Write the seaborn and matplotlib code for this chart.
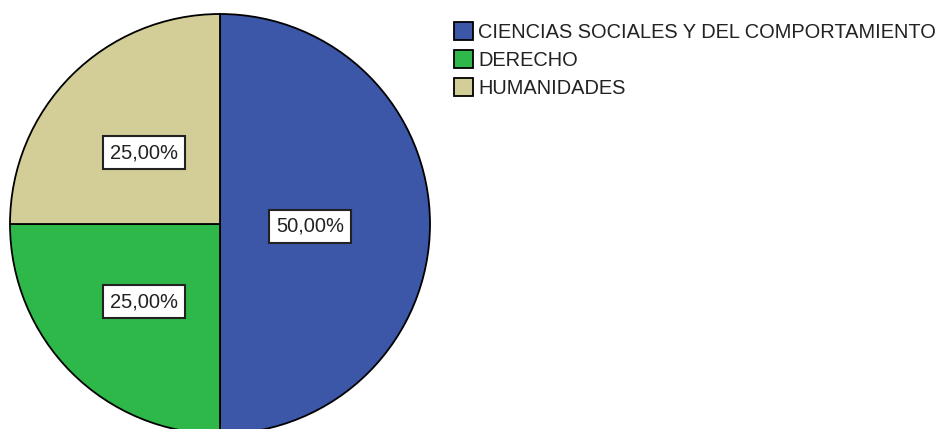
import matplotlib
matplotlib.use("Agg")
import matplotlib.pyplot as plt
import seaborn as sns

# -------------------------------
# Data
# -------------------------------
categories = ["CIENCIAS SOCIALES Y DEL COMPORTAMIENTO", "DERECHO", "HUMANIDADES"]
percentages = [50.0, 25.0, 25.0]
colors = ["#3C56A8", "#2EB84A", "#D3CE97"]

sns.set_style("white")
plt.rcParams["font.family"] = ["Liberation Sans", "DejaVu Sans"]

W, H = 944, 429
fig = plt.figure(figsize=(W / 100, H / 100), dpi=100)
fig.patch.set_facecolor("white")

# pie centred at (220, 224) px, radius ~210 px
cx, cy, r = 220, 224, 210
ax = fig.add_axes([(cx - r) / W, (H - cy - r) / H, 2 * r / W, 2 * r / H])

def fmt(p):
    return f"{p:.2f}%".replace(".", ",")

wedges, texts, autotexts = ax.pie(
    percentages,
    colors=colors,
    startangle=90,
    counterclock=False,
    autopct=fmt,
    pctdistance=0.5,
    wedgeprops=dict(edgecolor="black", linewidth=1.3),
    textprops=dict(fontsize=14.5, color="#222222"),
)
ax.set_xlim(-1.0, 1.0)
ax.set_ylim(-1.0, 1.0)
ax.set_aspect("equal")

for t in autotexts:
    t.set_bbox(dict(facecolor="white", edgecolor="#222222", linewidth=1.5, boxstyle="square,pad=0.35"))
# the big slice label sits a bit closer to the centre
autotexts[0].set_position((0.43, -0.01))
autotexts[1].set_position((-0.36, -0.37))
autotexts[2].set_position((-0.36, 0.34))

leg = fig.legend(
    wedges,
    categories,
    loc="upper left",
    bbox_to_anchor=(444 / W, 1 - 12 / H),
    frameon=False,
    fontsize=14.4,
    handlelength=0.95,
    handleheight=1.0,
    handletextpad=0.25,
    labelspacing=0.42,
    borderpad=0.0,
)
for t in leg.get_texts():
    t.set_color("#222222")

plt.savefig("out.png", dpi=100)
